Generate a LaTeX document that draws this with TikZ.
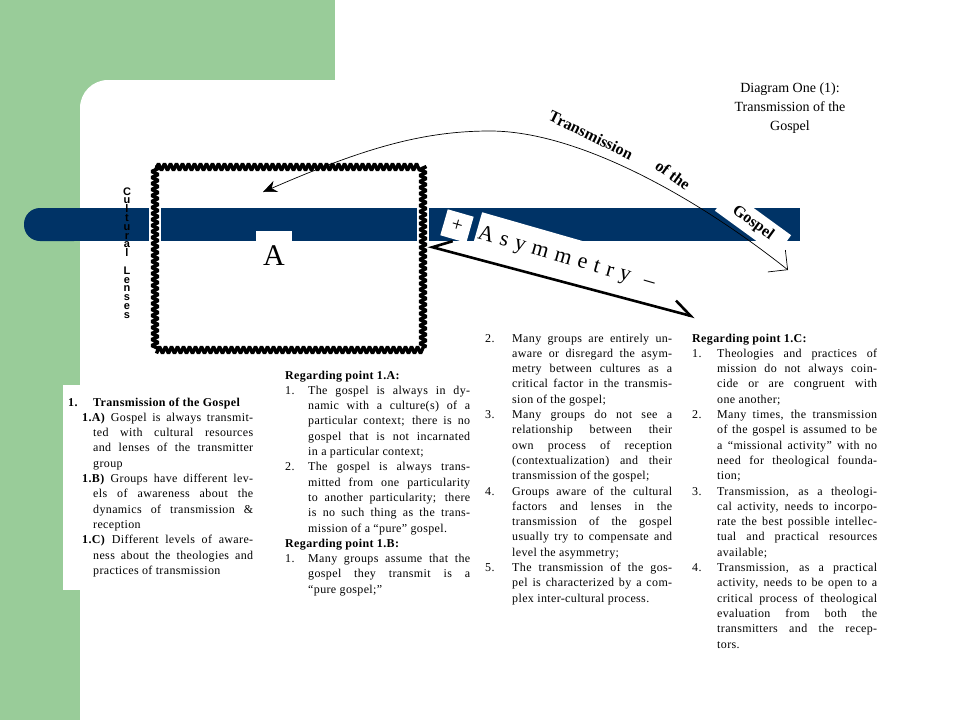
\documentclass[tikz,border=0pt]{standalone}
\usepackage{fontspec}
\setmainfont{Liberation Serif}
\setsansfont{Liberation Sans}
\newfontfamily\spaced[LetterSpace=6]{Liberation Serif}
\newfontfamily\colfont[LetterSpace=3]{Liberation Serif}
\usetikzlibrary{arrows.meta,decorations.pathmorphing}
\definecolor{leaf}{RGB}{153,204,153}
\definecolor{navy}{RGB}{0,51,102}
\newlength\colw \newlength\numw
\newcommand\jl[2][\numw]{\hspace*{#1}\makebox[\dimexpr\colw-#1\relax][s]{#2}}
\newcommand\el[2][\numw]{\hspace*{#1}\makebox[\dimexpr\colw-#1\relax][l]{#2}}
\newcommand\nj[2]{\makebox[\numw][l]{#1}\makebox[\dimexpr\colw-\numw\relax][s]{#2}}
\tikzset{col/.style={anchor=base west,inner sep=0pt,font=\colfont\fontsize{12}{15.3}\selectfont},
	bent/.style={font=\bfseries\fontsize{16}{16}\selectfont,inner sep=1pt}}
\begin{document}
\begin{tikzpicture}[x=1pt,y=-1pt]
		\useasboundingbox (0,0) rectangle (960,720);
		\fill[leaf] (0,0) rectangle (335,720);
		\fill[white] (80,720) -- (80,108) arc[start angle=180,end angle=270,radius=28] -- (335,80) -- (335,720) -- cycle;
		\fill[white] (63,385) rectangle (270,590);
		% the bar and the lens frame
		\fill[navy,rounded corners=16pt] (24,208) rectangle (90,241);\fill[navy] (60,208) rectangle (800,241);
		\draw[white,line width=12pt] (155,167) rectangle (423,350);
		\draw[line width=3.4pt,line join=bevel,decorate,decoration={zigzag,segment length=6pt,amplitude=3.4pt}] (155,167) rectangle (423,350);
		\node[fill=white,minimum width=36pt,minimum height=48pt,anchor=north,inner sep=0pt,font=\fontsize{30}{30}\selectfont] (A) at (274,231) {A};
		\node[align=center,inner sep=0pt,font=\sffamily\bfseries\fontsize{11}{8.8}\selectfont] (lens) at (127,253) {C\\u\\l\\t\\u\\r\\a\\l\\~\\L\\e\\n\\s\\e\\s};
		\node[fill=white,rotate=-16,minimum size=27pt,inner sep=0pt,font=\fontsize{20}{20}\selectfont] (plus) at (457,226) {+};
		\node[fill=white,rotate=-16,anchor=north west,inner xsep=2pt,inner ysep=12pt,font=\spaced\fontsize{22}{22}\selectfont] (asym) at (482,212) {A s y m m e t r y\hspace{14pt}–};
		\node[bent,fill=white,rotate=-36,minimum width=76pt,minimum height=25pt,inner sep=0pt] (gospel) at (753,223) {Gospel};
		\node[bent,rotate=-26] (trans) at (591,135) {Transmission};\node[bent,rotate=-36] (ofthe) at (673,175) {of the};
		\node[align=center,font=\fontsize{14}{19}\selectfont] (title) at (790,108) {Diagram One (1):\\Transmission of the\\Gospel};
		% arrows
		\coordinate (tA) at (263,192);\coordinate (tT) at (490,131);\coordinate (tB) at (788,270);
		\draw[line width=0.7pt,{Stealth[length=14pt,width=12pt]}-{Straight Barb[length=14pt,width=28pt]}] (tA) .. controls (360,150) and (420,131) .. (tT) .. controls (580,131) and (700,200) .. (tB);
		\coordinate (aL) at (428,246);\coordinate (aR) at (695,317);
		\draw[line width=2.6pt,{Straight Barb[harpoon,swap,length=18pt,width=22pt]}-{Straight Barb[harpoon,length=18pt,width=22pt]}] (aL) -- (aR);
		% the four text columns
		\node[col] (colA) at (68,406) {\setlength\colw{185pt}\setlength\numw{25pt}\begin{tabular}[t]{@{}l@{}}
			\makebox[\numw][l]{\textbf{1.}}\textbf{Transmission of the Gospel}\\
			\jl[14pt]{\textbf{1.A)} Gospel is always transmit-}\\
			\jl{ted with cultural resources}\\
			\jl{and lenses of the transmitter}\\
			\el{group}\\
			\jl[14pt]{\textbf{1.B)} Groups have different lev-}\\
			\jl{els of awareness about the}\\
			\jl{dynamics of transmission \&}\\
			\el{reception}\\
			\jl[14pt]{\textbf{1.C)} Different levels of aware-}\\
			\jl{ness about the theologies and}\\
			\el{practices of transmission}
		\end{tabular}};
		\node[col] (colB) at (285,379) {\setlength\colw{185pt}\setlength\numw{23pt}\begin{tabular}[t]{@{}l@{}}
			\textbf{Regarding point 1.A:}\\
			\nj{1.}{The gospel is always in dy-}\\
			\jl{namic with a culture(s) of a}\\
			\jl{particular context; there is no}\\
			\jl{gospel that is not incarnated}\\
			\el{in a particular context;}\\
			\nj{2.}{The gospel is always trans-}\\
			\jl{mitted from one particularity}\\
			\jl{to another particularity; there}\\
			\jl{is no such thing as the trans-}\\
			\el{mission of a “pure” gospel.}\\
			\textbf{Regarding point 1.B:}\\
			\nj{1.}{Many groups assume that the}\\
			\jl{gospel they transmit is a}\\
			\el{“pure gospel;”}
		\end{tabular}};
		\node[col] (colC) at (485,342) {\setlength\colw{187pt}\setlength\numw{27pt}\begin{tabular}[t]{@{}l@{}}
			\nj{2.}{Many groups are entirely un-}\\
			\jl{aware or disregard the asym-}\\
			\jl{metry between cultures as a}\\
			\jl{critical factor in the transmis-}\\
			\el{sion of the gospel;}\\
			\nj{3.}{Many groups do not see a}\\
			\jl{relationship between their}\\
			\jl{own process of reception}\\
			\jl{(contextualization) and their}\\
			\el{transmission of the gospel;}\\
			\nj{4.}{Groups aware of the cultural}\\
			\jl{factors and lenses in the}\\
			\jl{transmission of the gospel}\\
			\jl{usually try to compensate and}\\
			\el{level the asymmetry;}\\
			\nj{5.}{The transmission of the gos-}\\
			\jl{pel is characterized by a com-}\\
			\el{plex inter-cultural process.}
		\end{tabular}};
		\node[col] (colD) at (692,342) {\setlength\colw{185pt}\setlength\numw{25pt}\begin{tabular}[t]{@{}l@{}}
			\textbf{Regarding point 1.C:}\\
			\nj{1.}{Theologies and practices of}\\
			\jl{mission do not always coin-}\\
			\jl{cide or are congruent with}\\
			\el{one another;}\\
			\nj{2.}{Many times, the transmission}\\
			\jl{of the gospel is assumed to be}\\
			\jl{a “missional activity” with no}\\
			\jl{need for theological founda-}\\
			\el{tion;}\\
			\nj{3.}{Transmission, as a theologi-}\\
			\jl{cal activity, needs to incorpo-}\\
			\jl{rate the best possible intellec-}\\
			\jl{tual and practical resources}\\
			\el{available;}\\
			\nj{4.}{Transmission, as a practical}\\
			\jl{activity, needs to be open to a}\\
			\jl{critical process of theological}\\
			\jl{evaluation from both the}\\
			\jl{transmitters and the recep-}\\
			\el{tors.}
		\end{tabular}};
	\end{tikzpicture}
\end{document}
